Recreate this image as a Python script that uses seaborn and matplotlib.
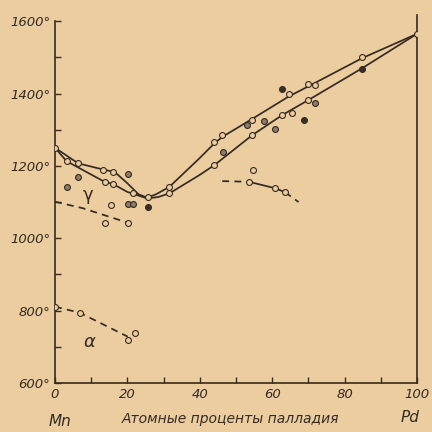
import matplotlib
matplotlib.use("Agg")
import matplotlib.pyplot as plt
import seaborn as sns
import pandas as pd

# Mn-Pd phase diagram (scanned figure)
# liquidus (upper curve) and solidus (lower curve), at. % Pd vs temperature
liq_x = [0, 6.4, 13.3, 16.5, 20, 23, 25.5, 28, 31.6, 39.8, 44, 46.2, 54.5, 64.6, 71, 84.7, 100]
liq_t = [1250, 1207, 1190, 1183, 1152, 1122, 1112, 1122, 1142, 1220, 1262, 1280, 1330, 1392, 1425, 1497, 1565]
sol_x = [0, 3.2, 13.7, 16, 20, 25.5, 28.5, 31.6, 39.8, 44, 54.5, 62.7, 70, 84.7, 100]
sol_t = [1250, 1213, 1156, 1150, 1128, 1110, 1114, 1124, 1174, 1202, 1285, 1340, 1382, 1469, 1565]

# dashed boundaries
gam_x = [0, 7.7, 20.1]
gam_t = [1101, 1083, 1043]
right_dash_x = [46.2, 53.6]
right_dash_t = [1158, 1156]
right_solid_x = [53.6, 60.9, 63.6]
right_solid_t = [1156, 1138, 1127]
right_tail_x = [63.6, 67.3]
right_tail_t = [1127, 1100]
alpha_x = [0, 6.9, 20.1]
alpha_t = [811, 794, 728]

# measured points
open_x = [0, 6.4, 3.2, 13.3, 16, 13.7, 16, 25.6, 21.5, 31.6, 31.6, 44, 46.2, 54.5, 44, 54.5,
          64.6, 70, 71.9, 62.7, 65.5, 70, 84.7, 100,
          15.6, 13.7, 20.1, 54.6, 53.6, 60.9, 63.6, 0, 6.9, 22, 20.1]
open_t = [1250, 1207, 1213, 1190, 1184, 1156, 1151, 1115, 1124, 1142, 1124, 1267, 1285, 1327, 1202, 1285,
          1398, 1426, 1423, 1340, 1345, 1382, 1501, 1565,
          1093, 1043, 1043, 1190, 1156, 1138, 1127, 811, 794, 737, 720]
gray_x = [20.1, 6.4, 3.2, 20.1, 21.5, 53.1, 57.7, 46.5, 60.9, 71.9]
gray_t = [1177, 1168, 1143, 1096, 1096, 1313, 1324, 1239, 1303, 1373]
dark_x = [25.6, 62.7, 68.7, 84.7]
dark_t = [1087, 1412, 1327, 1469]

y_ticks = list(range(600, 1601, 100))
y_labels = [f"{t}°" if t % 200 == 0 else "" for t in y_ticks]
x_ticks = list(range(0, 101, 10))
x_labels = [str(v) if v % 20 == 0 else "" for v in x_ticks]

paper = "#eccda0"
ink = "#342b23"

sns.set_theme(style="ticks")
plt.rcParams["font.family"] = ["DejaVu Sans"]

fig = plt.figure(figsize=(4.32, 4.32), dpi=100, facecolor=paper)
ax = fig.add_axes([0.1273, 0.1134, 0.838, 0.8519])
ax.set_facecolor(paper)

line_kw = dict(color=ink, linewidth=1.25, sort=False, estimator=None, legend=False)
sns.lineplot(x=liq_x, y=liq_t, ax=ax, **line_kw)
sns.lineplot(x=sol_x, y=sol_t, ax=ax, **line_kw)
sns.lineplot(x=right_solid_x, y=right_solid_t, ax=ax, **line_kw)
for xs, ts in [(gam_x, gam_t), (right_dash_x, right_dash_t), (right_tail_x, right_tail_t), (alpha_x, alpha_t)]:
    sns.lineplot(x=xs, y=ts, ax=ax, linestyle=(0, (4, 3)), **line_kw)

pts = pd.concat([
    pd.DataFrame({"x": open_x, "t": open_t, "kind": "open"}),
    pd.DataFrame({"x": gray_x, "t": gray_t, "kind": "gray"}),
    pd.DataFrame({"x": dark_x, "t": dark_t, "kind": "dark"}),
])
faces = {"open": paper, "gray": "#8c7b66", "dark": "#3a2f26"}
for kind, sub in pts.groupby("kind"):
    sns.scatterplot(data=sub, x="x", y="t", ax=ax, s=18, color=faces[kind],
                    edgecolor=ink, linewidth=0.8, zorder=5, legend=False)

ax.text(9.2, 1119, "γ", fontsize=13, color=ink, ha="center", va="center")
ax.text(9.6, 712, "α", fontsize=13, color=ink, ha="center", va="center", style="italic")

ax.set_xlim(0, 100)
ax.set_ylim(600, 1617)
ax.set_xticks(x_ticks)
ax.set_xticklabels(x_labels)
ax.set_yticks(y_ticks)
ax.set_yticklabels(y_labels)
ax.tick_params(direction="in", length=4, width=1, color=ink, labelcolor=ink, labelsize=9.5)
for lab in ax.get_xticklabels() + ax.get_yticklabels():
    lab.set_style("italic")
ax.set_xlabel("")
ax.set_ylabel("")

ax.spines["top"].set_visible(False)
ax.spines["left"].set_bounds(600, 1600)
for side in ["left", "bottom", "right"]:
    ax.spines[side].set_color(ink)
    ax.spines[side].set_linewidth(1.2)

fig.text(60 / 432, 1 - 421 / 432, "Mn", fontsize=11, style="italic", color=ink, ha="center", va="center")
fig.text(230 / 432, 1 - 419 / 432, "Атомные проценты палладия", fontsize=10, style="italic",
         color=ink, ha="center", va="center")
fig.text(410 / 432, 1 - 418 / 432, "Pd", fontsize=11, style="italic", color=ink, ha="center", va="center")

fig.savefig("out.png", dpi=100, facecolor=paper)
